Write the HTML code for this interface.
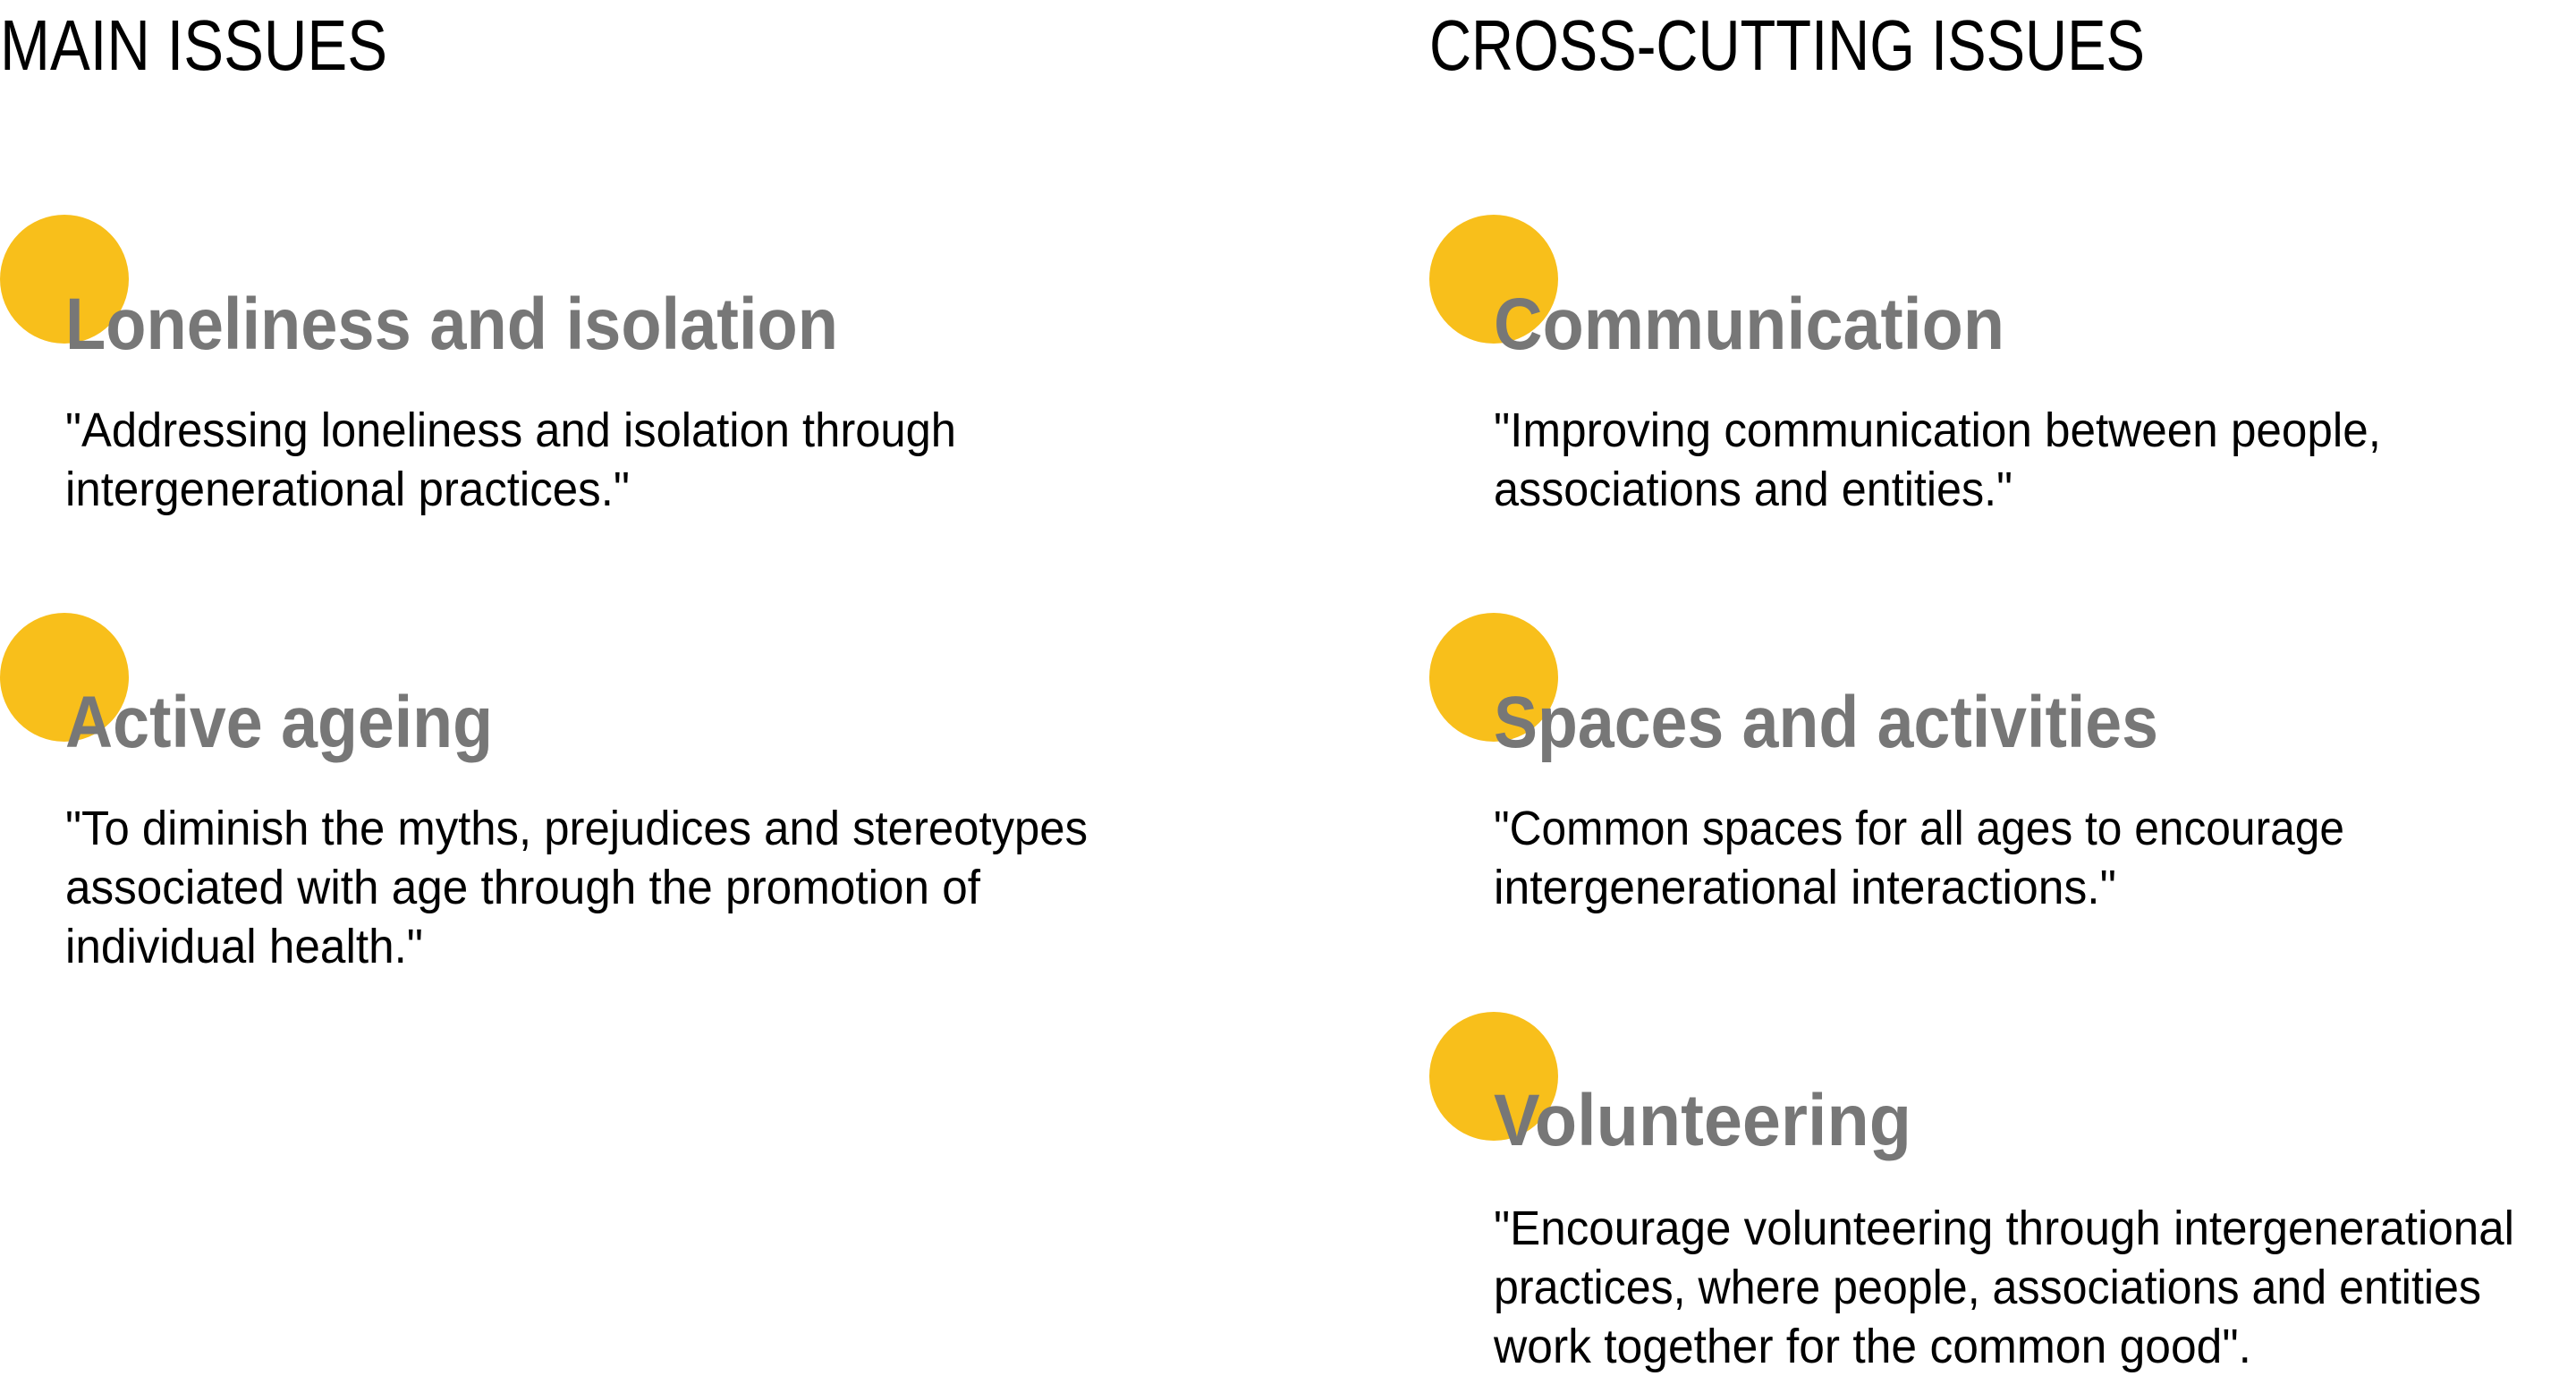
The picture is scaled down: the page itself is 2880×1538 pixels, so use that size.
<!DOCTYPE html>
<html><head><meta charset="utf-8"><style>html,body{margin:0;padding:0;background:#fff;width:2880px;height:1538px;overflow:hidden}</style></head>
<body>
<svg width="2880" height="1538" viewBox="0 0 2880 1538" xmlns="http://www.w3.org/2000/svg" font-family="'Liberation Sans', sans-serif">
<g fill="#F8BF1B">
<circle cx="72" cy="312" r="72"/>
<circle cx="72" cy="757" r="72"/>
<circle cx="1670" cy="312" r="72"/>
<circle cx="1670" cy="757" r="72"/>
<circle cx="1670" cy="1203" r="72"/>
</g>
<g fill="#000" font-size="80">
<text x="0" y="78" textLength="433" lengthAdjust="spacingAndGlyphs">MAIN ISSUES</text>
<text x="1598" y="78" textLength="800" lengthAdjust="spacingAndGlyphs">CROSS-CUTTING ISSUES</text>
</g>
<g fill="#777" font-size="82" font-weight="bold">
<text x="73" y="390" textLength="864" lengthAdjust="spacingAndGlyphs">Loneliness and isolation</text>
<text x="73" y="835" textLength="478" lengthAdjust="spacingAndGlyphs">Active ageing</text>
<text x="1670" y="390" textLength="571" lengthAdjust="spacingAndGlyphs">Communication</text>
<text x="1670" y="835" textLength="743" lengthAdjust="spacingAndGlyphs">Spaces and activities</text>
<text x="1670" y="1280" textLength="467" lengthAdjust="spacingAndGlyphs">Volunteering</text>
</g>
<g fill="#000" font-size="54">
<text x="73" y="499" textLength="996" lengthAdjust="spacingAndGlyphs">"Addressing loneliness and isolation through</text>
<text x="73" y="565" textLength="631" lengthAdjust="spacingAndGlyphs">intergenerational practices."</text>
<text x="73" y="944" textLength="1143" lengthAdjust="spacingAndGlyphs">"To diminish the myths, prejudices and stereotypes</text>
<text x="73" y="1010" textLength="1023" lengthAdjust="spacingAndGlyphs">associated with age through the promotion of</text>
<text x="73" y="1076" textLength="400" lengthAdjust="spacingAndGlyphs">individual health."</text>
<text x="1670" y="499" textLength="992" lengthAdjust="spacingAndGlyphs">"Improving communication between people,</text>
<text x="1670" y="565" textLength="580" lengthAdjust="spacingAndGlyphs">associations and entities."</text>
<text x="1670" y="944" textLength="951" lengthAdjust="spacingAndGlyphs">"Common spaces for all ages to encourage</text>
<text x="1670" y="1010" textLength="696" lengthAdjust="spacingAndGlyphs">intergenerational interactions."</text>
<text x="1670" y="1391" textLength="1141" lengthAdjust="spacingAndGlyphs">"Encourage volunteering through intergenerational</text>
<text x="1670" y="1457" textLength="1104" lengthAdjust="spacingAndGlyphs">practices, where people, associations and entities</text>
<text x="1670" y="1523" textLength="847" lengthAdjust="spacingAndGlyphs">work together for the common good".</text>
</g>
</svg>
</body></html>
